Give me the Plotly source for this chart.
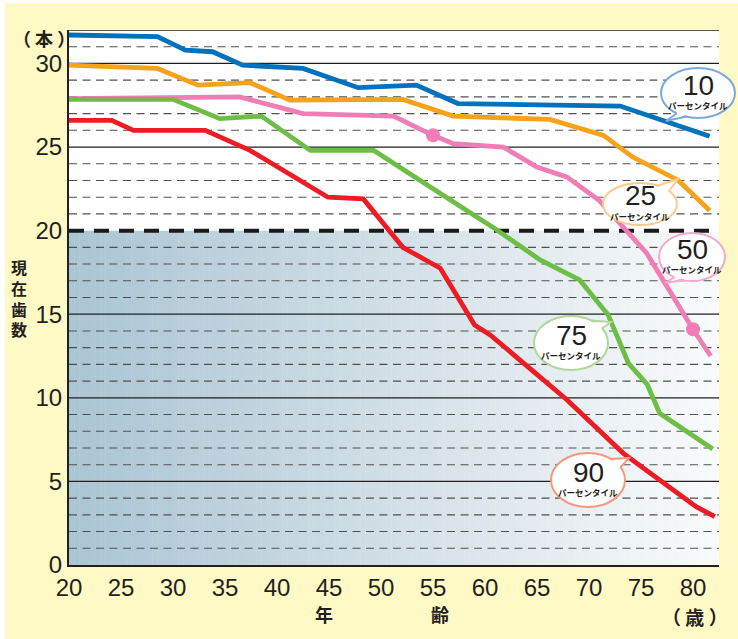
import math
import plotly.graph_objects as go

# ---------------- data ----------------
ages_p10 = [20, 28.5, 31.2, 33.8, 36.7, 42.5, 47.8, 53.4, 57.4, 73.0, 81.6]
teeth_p10 = [31.7, 31.6, 30.8, 30.7, 29.9, 29.7, 28.55, 28.7, 27.6, 27.45, 25.65]

ages_p25 = [20, 28.5, 32.4, 37.4, 41.25, 52.1, 56.95, 66.25, 71.4, 74.2, 78.6, 81.6]
teeth_p25 = [29.9, 29.7, 28.7, 28.85, 27.8, 27.85, 26.85, 26.65, 25.7, 24.4, 23.0, 21.2]

ages_p50 = [20, 36.4, 42.5, 51.2, 55.0, 56.95, 61.75, 65.0, 67.9, 71.0, 75.55, 80.0, 81.7]
teeth_p50 = [27.9, 28.0, 27.0, 26.85, 25.7, 25.2, 25.0, 23.8, 23.2, 21.8, 18.65, 14.1, 12.5]
marker_ages_p50 = [55, 80]
marker_teeth_p50 = [25.7, 14.1]

ages_p75 = [20, 30.0, 34.5, 38.5, 43.2, 49.3, 61.0, 65.3, 69.1, 71.85, 73.8, 75.6, 76.8, 81.9]
teeth_p75 = [27.85, 27.85, 26.7, 26.85, 24.8, 24.8, 20.1, 18.25, 17.05, 14.95, 12.06, 10.8, 9.07, 6.94]

ages_p90 = [20, 24.1, 26.2, 33.1, 37.4, 44.9, 48.3, 52.1, 55.7, 59.0, 60.5, 67.9, 73.3, 77.1, 80.3, 82.1]
teeth_p90 = [26.6, 26.6, 26.0, 26.0, 24.8, 22.0, 21.9, 19.0, 17.75, 14.35, 13.76, 9.87, 6.68, 4.98, 3.49, 2.89]

x_ticks = [20, 25, 30, 35, 40, 45, 50, 55, 60, 65, 70, 75, 80]
y_ticks = [0, 5, 10, 15, 20, 25, 30]
label_sub = "パーセンタイル"

# ---------------- layout geometry ----------------
W, H = 738, 639
ML, MR, MT, MB = 69, 19, 30, 74
PW, PH = W - ML - MR, H - MT - MB
X_RANGE = [20, 82.5]
Y_RANGE = [0, 32]

def px(x):
    return (x - ML) / PW

def py(y):
    return (H - MB - y) / PH

TXT = "#231F20"
YELLOW = "#FFF9C6"
FONT = "Liberation Sans, Arial, sans-serif"
JFONT = "Noto Sans CJK JP, sans-serif"

fig = go.Figure()

series = [
    (ages_p10, teeth_p10, "#0071BC"),
    (ages_p25, teeth_p25, "#F7A21B"),
    (ages_p50, teeth_p50, "#F07DB5"),
    (ages_p75, teeth_p75, "#6DBE45"),
    (ages_p90, teeth_p90, "#ED1C24"),
]
for xs, ys, c in series:
    fig.add_trace(go.Scatter(x=xs, y=ys, mode="lines",
                             line=dict(color=c, width=4.8),
                             hoverinfo="skip", showlegend=False))
fig.add_trace(go.Scatter(x=marker_ages_p50, y=marker_teeth_p50, mode="markers",
                         marker=dict(color="#F07DB5", size=14),
                         hoverinfo="skip", showlegend=False))

shapes = []
# white page border strips
shapes.append(dict(type="rect", xref="paper", yref="paper", x0=px(0), x1=px(W),
                   y0=py(0), y1=py(3), fillcolor="white", line_width=0, layer="below"))
shapes.append(dict(type="rect", xref="paper", yref="paper", x0=px(0), x1=px(5),
                   y0=py(0), y1=py(H), fillcolor="white", line_width=0, layer="below"))

# gradient below 20
def lerp(c1, c2, t):
    return tuple(int(round(a + (b - a) * t)) for a, b in zip(c1, c2))

stops = [(0.0, (170, 197, 211)), (0.55, (214, 226, 233)), (1.0, (249, 251, 252))]
def grad(t):
    for (t0, c0), (t1, c1) in zip(stops[:-1], stops[1:]):
        if t <= t1:
            return lerp(c0, c1, (t - t0) / (t1 - t0))
    return stops[-1][1]

n = 125
step = (X_RANGE[1] - X_RANGE[0]) / n
for i in range(n):
    x0 = X_RANGE[0] + i * step
    r, g, b = grad((i + 0.5) / n)
    shapes.append(dict(type="rect", xref="x", yref="y", x0=x0, x1=x0 + step * 1.08,
                       y0=0, y1=20, fillcolor=f"rgb({r},{g},{b})", line_width=0, layer="below"))

# grid lines
for v in range(1, 32):
    if v == 20:
        continue
    if v % 5 == 0:
        shapes.append(dict(type="line", xref="x", yref="y", x0=X_RANGE[0], x1=X_RANGE[1],
                           y0=v, y1=v, line=dict(color=TXT, width=1.3), layer="below"))
    else:
        shapes.append(dict(type="line", xref="x", yref="y", x0=X_RANGE[0], x1=X_RANGE[1],
                           y0=v, y1=v, line=dict(color="#505050", width=1.1, dash="8px,5.5px"),
                           layer="below"))
shapes.append(dict(type="line", xref="x", yref="y", x0=X_RANGE[0], x1=X_RANGE[1],
                   y0=32, y1=32, line=dict(color=TXT, width=1.5), layer="below"))
shapes.append(dict(type="line", xref="x", yref="y", x0=X_RANGE[0], x1=X_RANGE[1],
                   y0=20, y1=20, line=dict(color="#1A1A1A", width=4, dash="15px,10px"),
                   layer="below"))

annotations = []

# callout bubbles
bubbles = [
    # label, cx, cy, rx, ry, border, tip, angle1, angle2
    ("10", 698, 93, 37, 25, "#7DA8DC", (666, 121), 125, 108),
    ("25", 640, 204, 37, 21, "#FBCB8E", (678, 179), -38, -62),
    ("50", 692, 257, 33, 24, "#F5A9CB", (665, 283), 122, 104),
    ("75", 571, 343, 37, 27, "#B3D69A", (611, 322), -33, -57),
    ("90", 588, 480, 37, 27, "#F39A7E", (629, 458), -28, -52),
]
for lab, cx, cy, rx, ry, col, tip, a1, a2 in bubbles:
    shapes.append(dict(type="circle", xref="paper", yref="paper",
                       x0=px(cx - rx), x1=px(cx + rx), y0=py(cy + ry), y1=py(cy - ry),
                       fillcolor="white", line=dict(color=col, width=2), layer="above"))
    pts = []
    for a in (a1, a2):
        t = math.radians(a)
        pts.append((cx + (rx - 2.5) * math.cos(t), cy + (ry - 2.5) * math.sin(t)))
    (bx1, by1), (bx2, by2) = pts
    tx, ty = tip
    shapes.append(dict(type="path", xref="paper", yref="paper",
                       path=f"M {px(bx1)},{py(by1)} L {px(tx)},{py(ty)} L {px(bx2)},{py(by2)} Z",
                       fillcolor="white", line_width=0, layer="above"))
    pts2 = []
    for a in (a1, a2):
        t = math.radians(a)
        pts2.append((cx + (rx - 0.3) * math.cos(t), cy + (ry - 0.3) * math.sin(t)))
    (ex1, ey1), (ex2, ey2) = pts2
    shapes.append(dict(type="path", xref="paper", yref="paper",
                       path=f"M {px(ex1)},{py(ey1)} L {px(tx)},{py(ty)} L {px(ex2)},{py(ey2)}",
                       line=dict(color=col, width=2), layer="above"))
    annotations.append(dict(xref="paper", yref="paper", x=px(cx), y=py(cy - 8),
                            text=lab, showarrow=False, xanchor="center", yanchor="middle",
                            font=dict(family=FONT, size=28, color=TXT)))
    annotations.append(dict(xref="paper", yref="paper", x=px(cx), y=py(cy + 12),
                            text=f"<b>{label_sub}</b>", showarrow=False,
                            xanchor="center", yanchor="middle",
                            font=dict(family=JFONT, size=8.5, color=TXT)))

# axis captions
def cap(text, x, y, size=17):
    annotations.append(dict(xref="paper", yref="paper", x=px(x), y=py(y),
                            text=f"<b>{text}</b>", showarrow=False,
                            xanchor="center", yanchor="middle",
                            font=dict(family=JFONT, size=size, color=TXT)))

cap("（ 本 ）", 44, 38, 18)
cap("現<br>在<br>歯<br>数", 19, 298, 16)
cap("年", 324, 614, 18)
cap("齢", 440, 614, 18)
cap("（ 歳 ）", 695, 616, 19)

fig.update_layout(
    width=W, height=H,
    margin=dict(l=ML, r=MR, t=MT, b=MB, pad=0),
    paper_bgcolor=YELLOW,
    plot_bgcolor="white",
    shapes=shapes,
    annotations=annotations,
    showlegend=False,
    xaxis=dict(range=X_RANGE, tickvals=x_ticks, ticktext=[str(v) for v in x_ticks],
               showgrid=False, zeroline=False, showline=True, linecolor=TXT, linewidth=2,
               ticks="", ticklabelstandoff=0,
               tickfont=dict(family=FONT, size=24, color=TXT), fixedrange=True),
    yaxis=dict(range=Y_RANGE, tickvals=y_ticks, ticktext=[str(v) for v in y_ticks],
               showgrid=False, zeroline=False, showline=True, linecolor=TXT, linewidth=2,
               ticks="", ticklabelstandoff=0,
               tickfont=dict(family=FONT, size=24, color=TXT), fixedrange=True),
)

fig.write_html("out.html", config={"displayModeBar": False},
               post_script="document.body.style.margin='0';document.body.style.overflow='hidden';")
